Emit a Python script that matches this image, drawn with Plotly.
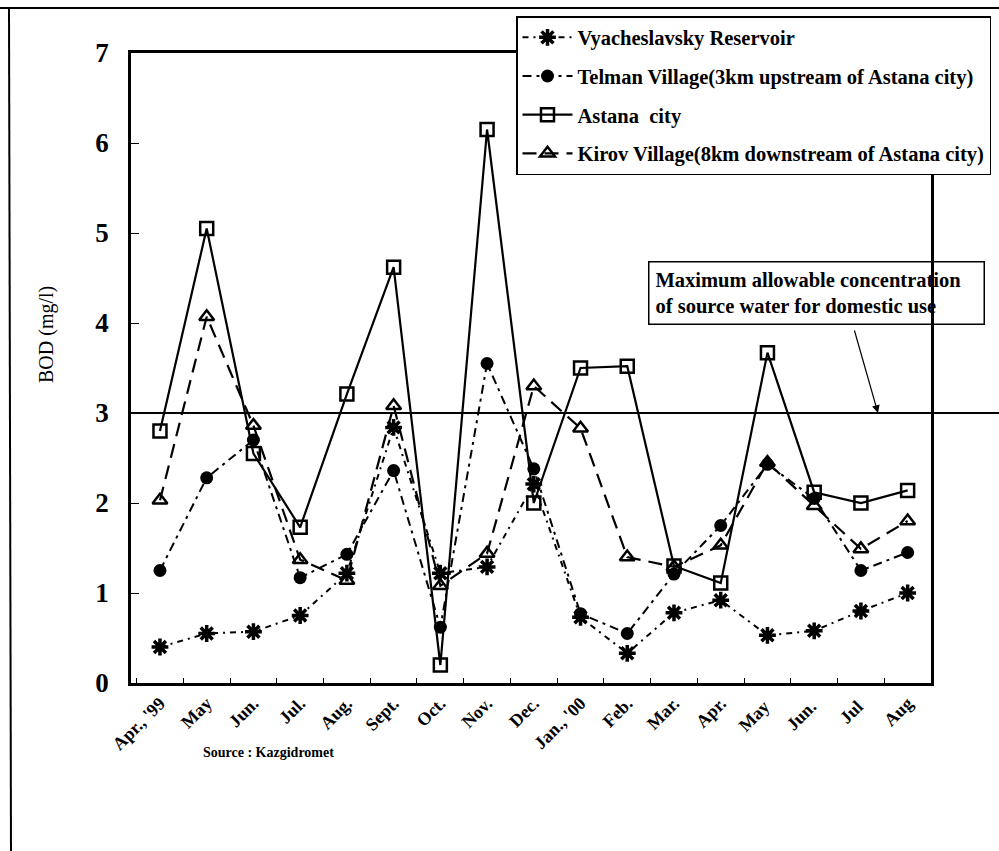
import plotly.graph_objects as go

months = ["Apr., '99", "May", "Jun.", "Jul.", "Aug.", "Sept.", "Oct.", "Nov.", "Dec.",
          "Jan., '00", "Feb.", "Mar.", "Apr.", "May ", "Jun. ", "Jul ", "Aug"]

vyacheslavsky = [0.40, 0.55, 0.57, 0.75, 1.22, 2.84, 1.22, 1.29, 2.21, 0.73, 0.33, 0.78, 0.92, 0.53, 0.58, 0.80, 1.00]
telman = [1.25, 2.28, 2.70, 1.17, 1.43, 2.36, 0.62, 3.55, 2.38, 0.77, 0.55, 1.21, 1.75, 2.43, 2.05, 1.25, 1.45]
astana = [2.80, 5.05, 2.55, 1.73, 3.21, 4.62, 0.20, 6.15, 2.00, 3.50, 3.52, 1.30, 1.11, 3.67, 2.12, 2.00, 2.14]
kirov = [2.03, 4.07, 2.86, 1.37, 1.14, 3.08, 1.08, 1.44, 3.30, 2.83, 1.40, 1.29, 1.53, 2.45, 1.97, 1.49, 1.80]

names = ["Vyacheslavsky Reservoir",
         "Telman Village(3km upstream of Astana city)",
         "Astana  city",
         "Kirov Village(8km downstream of Astana city)"]

limit_value = 3
source_text = "Source : Kazgidromet"
limit_text = "Maximum allowable concentration<br>of source water for domestic use"
y_title = "BOD (mg/l)"

SERIF = "Liberation Serif, Times New Roman, serif"

fig = go.Figure()
fig.add_trace(go.Scatter(
    x=months, y=vyacheslavsky, name=names[0], mode="lines+markers", legendgroup="a",
    line=dict(color="black", width=2, dash="6px,5px,2px,5px"),
    marker=dict(symbol="asterisk-open", size=14, color="black", line=dict(color="black", width=3.5))))
fig.add_trace(go.Scatter(
    x=months, y=telman, name=names[1], mode="lines+markers", legendgroup="b",
    line=dict(color="black", width=2, dash="9px,5px,3px,5px"),
    marker=dict(symbol="circle", size=13, color="black")))
fig.add_trace(go.Scatter(
    x=months, y=astana, name=names[2], mode="lines+markers", legendgroup="c",
    line=dict(color="black", width=2.2),
    marker=dict(symbol="square-open", size=13, color="black", line=dict(color="black", width=2.5))))
fig.add_trace(go.Scatter(
    x=months, y=kirov, name=names[3], mode="lines+markers", legendgroup="d",
    line=dict(color="black", width=2.2, dash="14px,8px"),
    marker=dict(symbol="triangle-up-open", size=13, color="black", line=dict(color="black", width=2.5))))

L, R, T, B = 131, 68, 53, 168
PW, PH = 999 - L - R, 851 - T - B

def px(x):
    return (x - L) / PW

def py(y):
    return (851 - B - y) / PH

fig.update_layout(
    width=999, height=851,
    margin=dict(l=L, r=R, t=T, b=B, pad=0, autoexpand=False),
    paper_bgcolor="white", plot_bgcolor="white",
    font=dict(family=SERIF, color="black"),
    showlegend=True,
    legend=dict(
        x=px(516), y=py(16), xanchor="left", yanchor="top",
        bgcolor="white", bordercolor="black", borderwidth=1.5,
        font=dict(family=SERIF, size=20.5, color="black", weight="bold"),
        traceorder="grouped", tracegroupgap=9, itemwidth=50),
    xaxis=dict(
        type="category", range=[-0.62, 16.5],
        showline=True, linecolor="black", linewidth=2.5, mirror=True,
        ticks="inside", ticklen=5, tickwidth=1, tickcolor="black", tickson="boundaries",
        tickangle=-45, showgrid=False, zeroline=False,
        tickfont=dict(family=SERIF, size=18, color="black", weight="bold")),
    yaxis=dict(
        range=[0, 7], dtick=1,
        showline=True, linecolor="black", linewidth=2.5, mirror=True,
        ticks="inside", ticklen=8, tickwidth=1, tickcolor="black",
        showgrid=False, zeroline=False,
        tickfont=dict(family=SERIF, size=27, color="black", weight="bold"), ticklabelstandoff=14),
)

# standard line at 3 mg/l, extended past the plot
fig.add_shape(type="line", xref="paper", yref="y", x0=0, x1=px(999), y0=limit_value, y1=limit_value,
              line=dict(color="black", width=2))

# outer page frame
fig.add_shape(type="line", xref="paper", yref="paper", x0=px(0), x1=px(999), y0=py(8), y1=py(8),
              line=dict(color="black", width=2))
fig.add_shape(type="line", xref="paper", yref="paper", x0=px(9), x1=px(11), y0=py(8), y1=py(851),
              line=dict(color="black", width=2))

fig.add_annotation(
    text=y_title, xref="paper", yref="paper", x=px(46), y=py(335), showarrow=False,
    xanchor="center", yanchor="middle",
    textangle=-90, font=dict(family=SERIF, size=20, color="black"))

fig.add_annotation(
    text=source_text, xref="paper", yref="paper", x=px(268), y=py(752), showarrow=False,
    xanchor="center", yanchor="middle",
    font=dict(family=SERIF, size=14, color="black", weight="bold"))

fig.add_annotation(
    text=limit_text, xref="paper", yref="paper", x=px(648), y=py(261),
    xanchor="left", yanchor="top", align="left", showarrow=False,
    bordercolor="black", borderwidth=1.5, borderpad=6, width=322,
    font=dict(family=SERIF, size=20.5, color="black", weight="bold"))

fig.add_annotation(
    text="", xref="paper", yref="y", x=px(878), y=limit_value,
    showarrow=True, arrowhead=2, arrowsize=1.3, arrowwidth=1.2, arrowcolor="black",
    axref="pixel", ayref="pixel", ax=-24, ay=-84, standoff=0)

fig.write_html("out.html", config={"displayModeBar": False},
               post_script="document.body.style.margin='0px';document.body.style.overflow='hidden';")
